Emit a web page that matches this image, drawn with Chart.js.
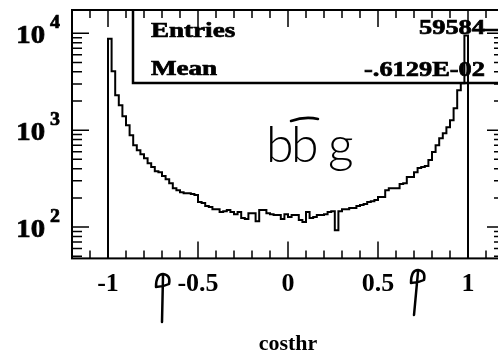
<!DOCTYPE html>
<html>
<head>
<meta charset="utf-8">
<script src="https://cdn.jsdelivr.net/npm/chart.js@4.4.1/dist/chart.umd.min.js"></script>
<style>
  html, body { margin: 0; padding: 0; background: #fff; overflow: hidden; }
  canvas { display: block; }
</style>
</head>
<body>
<canvas id="costhrChart" width="510" height="358"></canvas>
<script>
// costhr: 100 bins on [-1, 1]
const binLow = -1.0;
const binHigh = 1.0;
const counts = [
  8800, 4055, 2296, 1811, 1393, 1127, 888, 700, 622, 566,
  514, 457, 416, 378, 369, 336, 312, 284, 252, 240,
  229, 224, 224, 219, 214, 181, 177, 165, 161, 153,
  153, 143, 146, 150, 143, 136, 143, 124, 121, 139,
  139, 115, 150, 150, 139, 136, 133, 133, 121, 136,
  127, 133, 133, 118, 113, 143, 124, 127, 133, 133,
  136, 143, 146, 93, 146, 153, 153, 157, 157, 165,
  169, 173, 181, 185, 190, 204, 204, 240, 252, 252,
  252, 278, 284, 328, 328, 369, 406, 416, 426, 491,
  594, 700, 827, 931, 1074, 1268, 1687, 2580, 3050, 9500
];
const statNames = ['Entries', 'Mean'];
const statValues = ['59584', '-.6129E-02'];
const xTickValues = [-1, -0.5, 0, 0.5, 1];
const xTickLabels = ['-1', '-0.5', '0', '0.5', '1'];
const yDecades = [2, 3, 4];
const xMin = -1.2, xMax = 1.2;
const yMin = 47.5, yMax = 17400;

const serif = '"Liberation Serif", "Times New Roman", serif';
const binWidth = (binHigh - binLow) / counts.length;

// outline: up from the empty region at -1, across every bin, down again at +1
const histPoints = [{ x: binLow, y: yMin }];
counts.forEach((c, i) => histPoints.push({ x: binLow + i * binWidth, y: c }));
histPoints.push({ x: binHigh, y: counts[counts.length - 1] });
histPoints.push({ x: binHigh, y: yMin });

// horizontally widened, slightly heavier text
function wideText(ctx, text, x, y, sx, align) {
  ctx.save();
  ctx.translate(x, y);
  ctx.scale(sx, 1);
  ctx.textAlign = align;
  ctx.lineWidth = 0.7;
  ctx.fillText(text, 0, 0);
  ctx.strokeText(text, 0, 0);
  ctx.restore();
}

function handArrow(ctx, x0, y0, x1, y1) {
  ctx.beginPath();
  ctx.moveTo(x0, y0);
  ctx.lineTo(x1, y1);
  ctx.moveTo(x1 - 7, y1 + 11);
  ctx.quadraticCurveTo(x1 - 7, y1 - 2, x1, y1 - 2);
  ctx.quadraticCurveTo(x1 + 8, y1 - 1, x1 + 6, y1 + 8);
  ctx.quadraticCurveTo(x1, y1 + 11, x1 - 7, y1 + 11);
  ctx.stroke();
}

// frame with inward ticks, log labels, stats box and pen marks
const pawFrame = {
  id: 'pawFrame',
  afterDraw(chart) {
    const { ctx, chartArea: a } = chart;
    const xs = chart.scales.x, ys = chart.scales.y;
    ctx.save();
    ctx.strokeStyle = '#000';
    ctx.fillStyle = '#000';
    ctx.lineWidth = 2;
    ctx.strokeRect(a.left, a.top, a.right - a.left, a.bottom - a.top);

    ctx.lineWidth = 1.5;
    ctx.beginPath();
    for (let k = -12; k <= 12; k++) {
      const px = xs.getPixelForValue(k / 10);
      const len = k % 5 === 0 ? 17 : 8;
      ctx.moveTo(px, a.bottom); ctx.lineTo(px, a.bottom - len);
      ctx.moveTo(px, a.top); ctx.lineTo(px, a.top + len);
    }
    for (let d = 1; d <= 4; d++) {
      for (let m = 1; m <= 9; m++) {
        const v = m * Math.pow(10, d);
        if (v < yMin || v > yMax) continue;
        const py = ys.getPixelForValue(v);
        const len = m === 1 ? 17 : 10;
        ctx.moveTo(a.left, py); ctx.lineTo(a.left + len, py);
        ctx.moveTo(a.right, py); ctx.lineTo(a.right - len, py);
      }
    }
    ctx.stroke();

    // y labels as 10 with a raised exponent
    yDecades.forEach(d => {
      const py = ys.getPixelForValue(Math.pow(10, d));
      ctx.font = 'bold 25px ' + serif;
      wideText(ctx, '10', 45, py + 10, 1.15, 'right');
      ctx.font = 'bold 19px ' + serif;
      wideText(ctx, String(d), 50, py - 5, 1.05, 'left');
    });

    // statistics box
    ctx.lineWidth = 2.5;
    ctx.beginPath();
    ctx.moveTo(133, a.top);
    ctx.lineTo(133, 83);
    ctx.lineTo(a.right, 83);
    ctx.moveTo(483, 30);
    ctx.lineTo(a.right, 30);
    ctx.stroke();
    ctx.font = 'bold 22px ' + serif;
    wideText(ctx, statNames[0], 151, 37, 1.23, 'left');
    wideText(ctx, statNames[1], 151, 75, 1.23, 'left');
    wideText(ctx, statValues[0], 485, 34, 1.2, 'right');
    wideText(ctx, statValues[1], 485, 76, 1.2, 'right');

    // pen annotations
    ctx.lineWidth = 2.5;
    ctx.lineCap = 'round';
    ctx.lineJoin = 'round';
    ctx.font = '300 50px Lato, "DejaVu Sans", sans-serif';
    ctx.textAlign = 'left';
    ctx.fillText('b', 266, 162);
    ctx.fillText('b', 291, 162);
    ctx.fillText('g', 328, 162);
    ctx.beginPath();
    ctx.moveTo(291, 121);
    ctx.quadraticCurveTo(305, 116, 318, 119);
    ctx.stroke();
    handArrow(ctx, 162, 322, 163, 276);
    handArrow(ctx, 414, 315, 418, 272);
    ctx.restore();
  }
};

new Chart(document.getElementById('costhrChart'), {
  type: 'line',
  data: {
    datasets: [{
      data: histPoints,
      stepped: true,
      borderColor: '#000',
      borderWidth: 2,
      pointRadius: 0,
      fill: false
    }]
  },
  options: {
    responsive: false,
    animation: false,
    layout: { padding: { left: 72, right: 6, top: 10, bottom: 0 } },
    plugins: { legend: { display: false }, tooltip: { enabled: false } },
    scales: {
      x: {
        type: 'linear',
        min: xMin,
        max: xMax,
        grid: { display: false, drawTicks: false },
        border: { display: false },
        afterBuildTicks: s => { s.ticks = xTickValues.map(v => ({ value: v })); },
        ticks: {
          padding: 10,
          color: '#000',
          maxRotation: 0,
          autoSkip: false,
          font: { family: serif, size: 26, weight: 'bold' },
          callback: v => xTickLabels[xTickValues.indexOf(v)]
        },
        title: {
          display: true,
          text: 'costhr',
          color: '#000',
          font: { family: serif, size: 22, weight: 'bold' },
          padding: { top: 22, bottom: 0 }
        }
      },
      y: { type: 'logarithmic', min: yMin, max: yMax, display: false }
    }
  },
  plugins: [pawFrame]
});
</script>
</body>
</html>
